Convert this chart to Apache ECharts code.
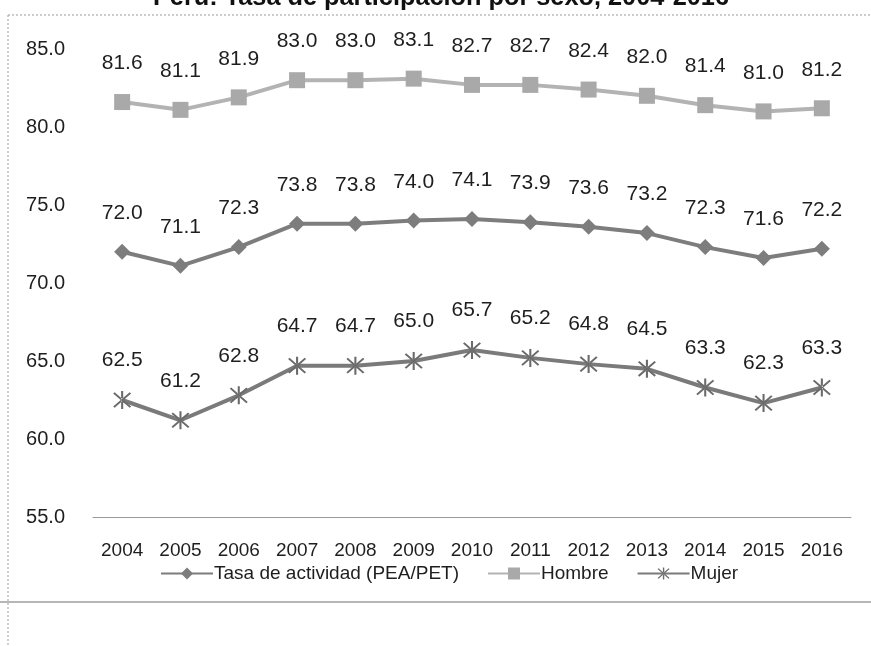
<!DOCTYPE html>
<html>
<head>
<meta charset="utf-8">
<script src="https://cdn.jsdelivr.net/npm/echarts@6/dist/echarts.min.js"></script>
<style>
  html, body { margin: 0; padding: 0; background: #ffffff; }
  #chart { width: 871px; height: 646px; }
</style>
</head>
<body>
<div id="chart"></div>
<script>
// Labour participation rate in Peru by sex, 2004-2016
const years = ['2004','2005','2006','2007','2008','2009','2010','2011','2012','2013','2014','2015','2016'];
const tasaActividad = [72.0, 71.1, 72.3, 73.8, 73.8, 74.0, 74.1, 73.9, 73.6, 73.2, 72.3, 71.6, 72.2];
const hombre = [81.6, 81.1, 81.9, 83.0, 83.0, 83.1, 82.7, 82.7, 82.4, 82.0, 81.4, 81.0, 81.2];
const mujer = [62.5, 61.2, 62.8, 64.7, 64.7, 65.0, 65.7, 65.2, 64.8, 64.5, 63.3, 62.3, 63.3];

const FONT = '"Liberation Sans", Arial, sans-serif';

// asterisk-style marker: vertical bar plus two diagonals
const asterisk = 'path://M-1,-10 L1,-10 L1,10 L-1,10 Z ' +
  'M-8.7,-7.3 L7.3,8.7 L8.7,7.3 L-7.3,-8.7 Z ' +
  'M-7.3,8.7 L8.7,-7.3 L7.3,-8.7 L-8.7,7.3 Z';

const labelStyle = {
  show: true,
  position: 'top',
  distance: 20,
  fontFamily: FONT,
  fontSize: 21,
  color: '#1e1e1e',
  formatter: p => p.value.toFixed(1)
};

const chart = echarts.init(document.getElementById('chart'));
chart.setOption({
  animation: false,
  backgroundColor: '#ffffff',
  title: {
    text: 'Perú: Tasa de participación por sexo, 2004-2016',
    left: 148,
    top: -19,
    textStyle: { fontFamily: FONT, fontSize: 25.3, fontWeight: 'bold', color: '#111' }
  },
  graphic: [
    { type: 'line', shape: { x1: 8, y1: 15, x2: 871, y2: 15 },
      style: { stroke: '#9a9a9a', lineWidth: 1, lineDash: [2, 2] } },
    { type: 'line', shape: { x1: 8, y1: 15, x2: 8, y2: 646 },
      style: { stroke: '#a0a0a0', lineWidth: 1, lineDash: [2, 2] } },
    { type: 'line', shape: { x1: 0, y1: 602, x2: 871, y2: 602 },
      style: { stroke: '#6e6e6e', lineWidth: 1.2 } }
  ],
  grid: { left: 93, right: 20, top: 49, bottom: 129 },
  legend: {
    bottom: 58,
    left: 155,
    itemGap: 28,
    itemWidth: 52,
    itemHeight: 15,
    textStyle: { fontFamily: FONT, fontSize: 19, color: '#1e1e1e', padding: [0, 0, 0, -4] },
    data: ['Tasa de actividad (PEA/PET)', 'Hombre', 'Mujer']
  },
  xAxis: {
    type: 'category',
    data: years,
    boundaryGap: true,
    axisLine: { lineStyle: { color: '#9a9a9a', width: 1 } },
    axisTick: { show: false },
    axisLabel: { fontFamily: FONT, fontSize: 19, color: '#1e1e1e', margin: 24 }
  },
  yAxis: {
    type: 'value',
    min: 55,
    max: 85,
    interval: 5,
    axisLine: { show: false },
    axisTick: { show: false },
    splitLine: { show: false },
    axisLabel: { fontFamily: FONT, fontSize: 20, color: '#1e1e1e', margin: 28,
      formatter: v => v.toFixed(1) }
  },
  series: [
    {
      name: 'Tasa de actividad (PEA/PET)',
      type: 'line',
      data: tasaActividad,
      symbol: 'diamond',
      symbolSize: 16,
      itemStyle: { color: '#7d7d7d' },
      lineStyle: { color: '#7d7d7d', width: 4 },
      label: labelStyle
    },
    {
      name: 'Hombre',
      type: 'line',
      data: hombre,
      symbol: 'rect',
      symbolSize: 16,
      itemStyle: { color: '#a9a9a9' },
      lineStyle: { color: '#b3b3b3', width: 4 },
      label: labelStyle
    },
    {
      name: 'Mujer',
      type: 'line',
      data: mujer,
      symbol: asterisk,
      symbolSize: 18,
      itemStyle: { color: '#6a6a6a' },
      lineStyle: { color: '#7a7a7a', width: 4 },
      label: labelStyle
    }
  ]
});
</script>
</body>
</html>
